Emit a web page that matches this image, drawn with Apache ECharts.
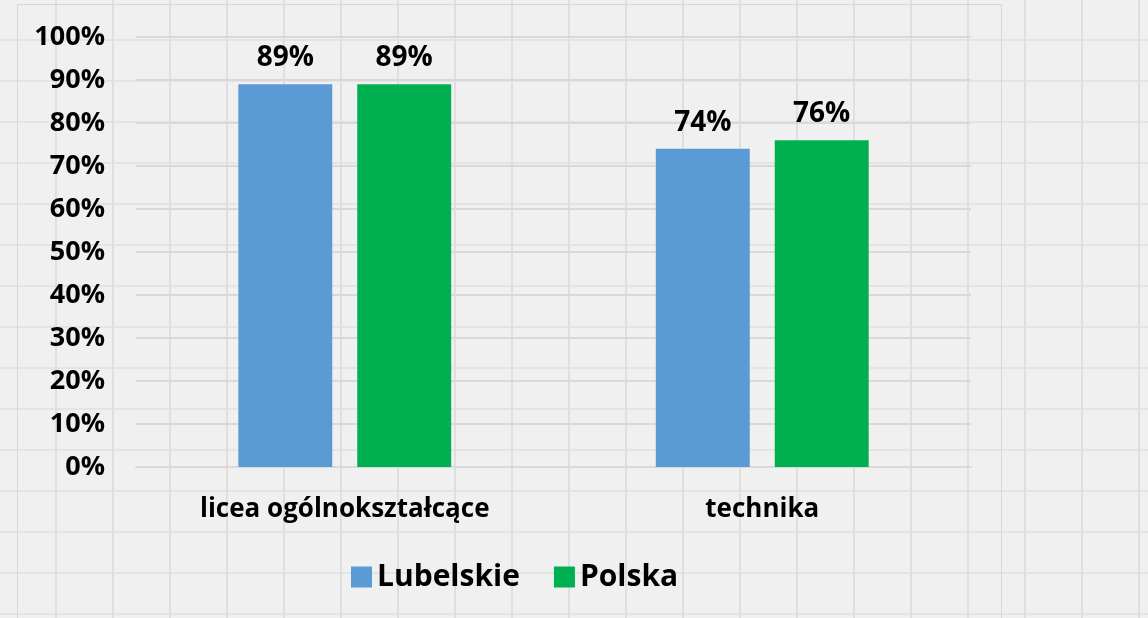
<!DOCTYPE html>
<html>
<head>
<meta charset="utf-8">
<script src="https://cdn.jsdelivr.net/npm/echarts@6/dist/echarts.min.js"></script>
<style>
  html, body {
    margin: 0;
    padding: 0;
    width: 1148px;
    height: 618px;
    overflow: hidden;
  }
  body {
    background-color: #f1f0f1;
    background-image:
      repeating-linear-gradient(to right, transparent 0, transparent 55px, #e0dfe0 55px, #e0dfe0 57px),
      repeating-linear-gradient(to bottom, transparent 0, transparent 39px, #e5e4e5 39px, #e5e4e5 41px);
  }
  #frame {
    position: absolute;
    left: 17px;
    top: 4px;
    width: 983px;
    height: 640px;
    border: 1px solid #d6d6d6;
  }
  #chart {
    position: absolute;
    left: 0;
    top: 0;
    width: 1148px;
    height: 618px;
  }
</style>
</head>
<body>
<div id="frame"></div>
<div id="chart"></div>
<script>
// typy szkół
var categories = ['licea ogólnokształcące', 'technika']
// wartości w procentach
var lubelskie = [89, 74]
var polska = [89, 76]
var yTicks = [0, 10, 20, 30, 40, 50, 60, 70, 80, 90, 100]

var FONT = 'Open Sans'

var chart = echarts.init(document.getElementById('chart'))

function barLabel() {
  return {
    show: true,
    position: 'top',
    distance: 12,
    formatter: '{c}%',
    color: '#000',
    fontFamily: FONT,
    fontWeight: 'bold',
    fontSize: 28
  }
}

chart.setOption({
  backgroundColor: 'transparent',
  animation: false,
  grid: {
    left: 136,
    right: 177,
    top: 37,
    bottom: 151
  },
  legend: {
    data: ['Lubelskie', 'Polska'],
    left: 346,
    top: 557,
    icon: 'rect',
    itemWidth: 21,
    itemHeight: 21,
    itemGap: 34,
    textStyle: {
      color: '#000',
      fontFamily: FONT,
      fontWeight: 'bold',
      fontSize: 30
    }
  },
  xAxis: {
    type: 'category',
    data: categories,
    axisLine: { show: true, lineStyle: { color: '#d9d9d9', width: 2 } },
    axisTick: { show: false },
    axisLabel: {
      margin: 30,
      color: '#000',
      fontFamily: FONT,
      fontWeight: 'bold',
      fontSize: 26
    }
  },
  yAxis: {
    type: 'value',
    min: yTicks[0],
    max: yTicks[yTicks.length - 1],
    interval: 10,
    axisLine: { show: false },
    axisTick: { show: false },
    splitLine: { lineStyle: { color: '#d9d9d9', width: 2 } },
    axisLabel: {
      margin: 31,
      color: '#000',
      fontFamily: FONT,
      fontWeight: 'bold',
      fontSize: 27,
      formatter: '{value}%'
    }
  },
  series: [
    {
      name: 'Lubelskie',
      type: 'bar',
      data: lubelskie,
      barWidth: '22.5%',
      barGap: '26.6%',
      itemStyle: { color: '#5b9bd5' },
      label: barLabel()
    },
    {
      name: 'Polska',
      type: 'bar',
      data: polska,
      barWidth: '22.5%',
      itemStyle: { color: '#00b050' },
      label: barLabel()
    }
  ]
})
</script>
</body>
</html>
